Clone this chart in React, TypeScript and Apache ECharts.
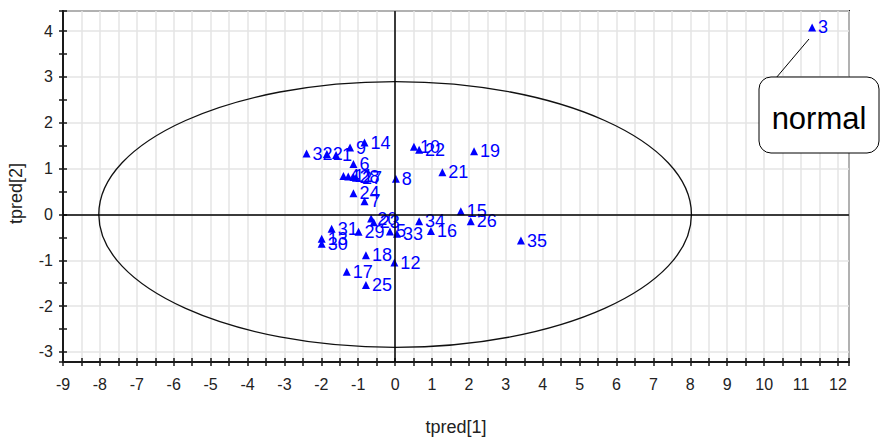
import React, { useEffect, useRef } from "react";
import * as echarts from "echarts";

// Observation numbers and their predicted scores
const obsLabels = [
  "3", "14", "10", "22", "19", "32", "2", "1", "9", "6",
  "4", "11", "28", "27", "24", "7", "8", "21", "15", "26",
  "34", "16", "33", "5", "20", "23", "29", "31", "13", "30",
  "18", "12", "17", "25", "35",
];
const tpred1 = [
  11.3, -0.83, 0.51, 0.65, 2.14, -2.4, -1.85, -1.6, -1.22, -1.13,
  -1.4, -1.27, -1.13, -1.06, -1.13, -0.83, 0.02, 1.28, 1.78, 2.05,
  0.65, 0.97, 0.05, -0.14, -0.65, -0.58, -0.99, -1.72, -1.99, -1.99,
  -0.79, -0.02, -1.31, -0.79, 3.41,
];
const tpred2 = [
  4.08, 1.57, 1.48, 1.41, 1.38, 1.33, 1.32, 1.3, 1.46, 1.1,
  0.84, 0.83, 0.82, 0.8, 0.46, 0.29, 0.78, 0.92, 0.07, -0.15,
  -0.15, -0.36, -0.42, -0.37, -0.09, -0.17, -0.38, -0.31, -0.53, -0.64,
  -0.89, -1.05, -1.25, -1.54, -0.57,
];

// Axis extents
const xExtent = [-9, 12.3];
const yExtent = [-3.22, 4.44];

// Hotelling T2 ellipse half-axes (t1, t2)
const ellipseRadii = [8.03, 2.9];

const calloutText = "normal";

const axisColor = "#1a1a1a";
const gridColor = "#e4e4e4";
const pointColor = "#0000ff";
const fontFamily = "Arial, 'Liberation Sans', sans-serif";

const intOnly = (v: number) => (Number.isInteger(v) ? String(v) : "");

export default function App() {
  const ref = useRef<HTMLDivElement>(null);

  useEffect(() => {
    if (!ref.current) return;
    const chart = echarts.init(ref.current, undefined, { renderer: "svg" });

    const xBase = {
      type: "value" as const,
      min: xExtent[0],
      max: xExtent[1],
      minInterval: 0.5,
      maxInterval: 0.5,
      position: "bottom" as const,
    };
    const yBase = {
      type: "value" as const,
      min: yExtent[0],
      max: yExtent[1],
      minInterval: 0.5,
      maxInterval: 0.5,
      position: "left" as const,
    };

    chart.setOption({
      animation: false,
      backgroundColor: "#ffffff",
      grid: {
        left: 63,
        top: 11,
        right: 32,
        bottom: 78,
        show: true,
        borderColor: axisColor,
        borderWidth: 2,
        outerBoundsMode: "none",
      },
      xAxis: [
        {
          ...xBase,
          name: "tpred[1]",
          nameLocation: "middle",
          nameGap: 56,
          nameTextStyle: { color: "#222", fontSize: 18, fontFamily },
          axisLine: { show: true, onZero: false, lineStyle: { color: axisColor, width: 2 } },
          axisTick: { show: true, inside: false, length: 4, lineStyle: { color: axisColor, width: 1.5 } },
          axisLabel: { formatter: intOnly, margin: 14, color: "#222", fontSize: 16, fontFamily },
          splitLine: { show: true, lineStyle: { color: gridColor, width: 1.5 } },
        },
        {
          ...xBase,
          axisLine: { show: false, onZero: false },
          axisTick: { show: true, inside: true, length: 4, lineStyle: { color: axisColor, width: 1.5 } },
          axisLabel: { show: false },
          splitLine: { show: false },
        },
      ],
      yAxis: [
        {
          ...yBase,
          name: "tpred[2]",
          nameLocation: "middle",
          nameGap: 38,
          nameTextStyle: { color: "#222", fontSize: 18, fontFamily, padding: [0, 14, 0, 0] },
          axisLine: { show: true, onZero: false, lineStyle: { color: axisColor, width: 2 } },
          axisTick: { show: true, inside: false, length: 4, lineStyle: { color: axisColor, width: 1.5 } },
          axisLabel: { formatter: intOnly, margin: 10, color: "#222", fontSize: 16, fontFamily },
          splitLine: { show: false },
        },
        {
          ...yBase,
          axisLine: { show: false, onZero: false },
          axisTick: { show: true, inside: true, length: 4, lineStyle: { color: axisColor, width: 1.5 } },
          axisLabel: { show: false },
          splitLine: { show: false },
        },
        {
          ...yBase,
          minInterval: 1,
          maxInterval: 1,
          axisLine: { show: false, onZero: false },
          axisTick: { show: false },
          axisLabel: { show: false },
          splitLine: { show: true, lineStyle: { color: gridColor, width: 1.5 } },
        },
      ],
      series: [
        {
          type: "custom",
          xAxisIndex: 0,
          yAxisIndex: 0,
          silent: true,
          z: 2,
          data: [[0, 0]],
          renderItem: (_params: any, api: any) => {
            const c = api.coord([api.value(0), api.value(1)]);
            const s = api.size([ellipseRadii[0], ellipseRadii[1]]);
            return {
              type: "ellipse",
              shape: { cx: c[0], cy: c[1], rx: s[0], ry: s[1] },
              style: { fill: "none", stroke: "#111", lineWidth: 1.3 },
            };
          },
        },
        {
          type: "scatter",
          xAxisIndex: 0,
          yAxisIndex: 0,
          z: 3,
          symbol: "triangle",
          symbolSize: 8,
          itemStyle: { color: pointColor, opacity: 1 },
          label: {
            show: true,
            position: "right",
            distance: 2,
            formatter: "{b}",
            color: pointColor,
            fontSize: 18,
            fontFamily,
          },
          data: obsLabels.map((n, i) => ({ name: n, value: [tpred1[i], tpred2[i]] })),
          markLine: {
            silent: true,
            symbol: "none",
            label: { show: false },
            lineStyle: { color: "#000", width: 1.5, type: "solid" },
            data: [{ xAxis: 0 }, { yAxis: 0 }],
          },
        },
      ],
      graphic: [
        {
          type: "line",
          z: 10,
          shape: { x1: 776, y1: 78, x2: 809, y2: 39 },
          style: { stroke: "#000", lineWidth: 1 },
        },
        {
          type: "rect",
          z: 10,
          shape: { x: 759, y: 77, width: 120, height: 76, r: 12 },
          style: { fill: "#ffffff", stroke: "#000", lineWidth: 1 },
        },
        {
          type: "text",
          z: 11,
          x: 819,
          y: 118,
          style: {
            text: calloutText,
            fill: "#000",
            fontSize: 31,
            fontFamily,
            align: "center",
            verticalAlign: "middle",
            textAlign: "center",
            textVerticalAlign: "middle",
          },
        },
      ],
    });

    return () => chart.dispose();
  }, []);

  return (
    <div
      ref={ref}
      style={{ position: "absolute", left: 0, top: 0, width: 881, height: 440 }}
    />
  );
}
